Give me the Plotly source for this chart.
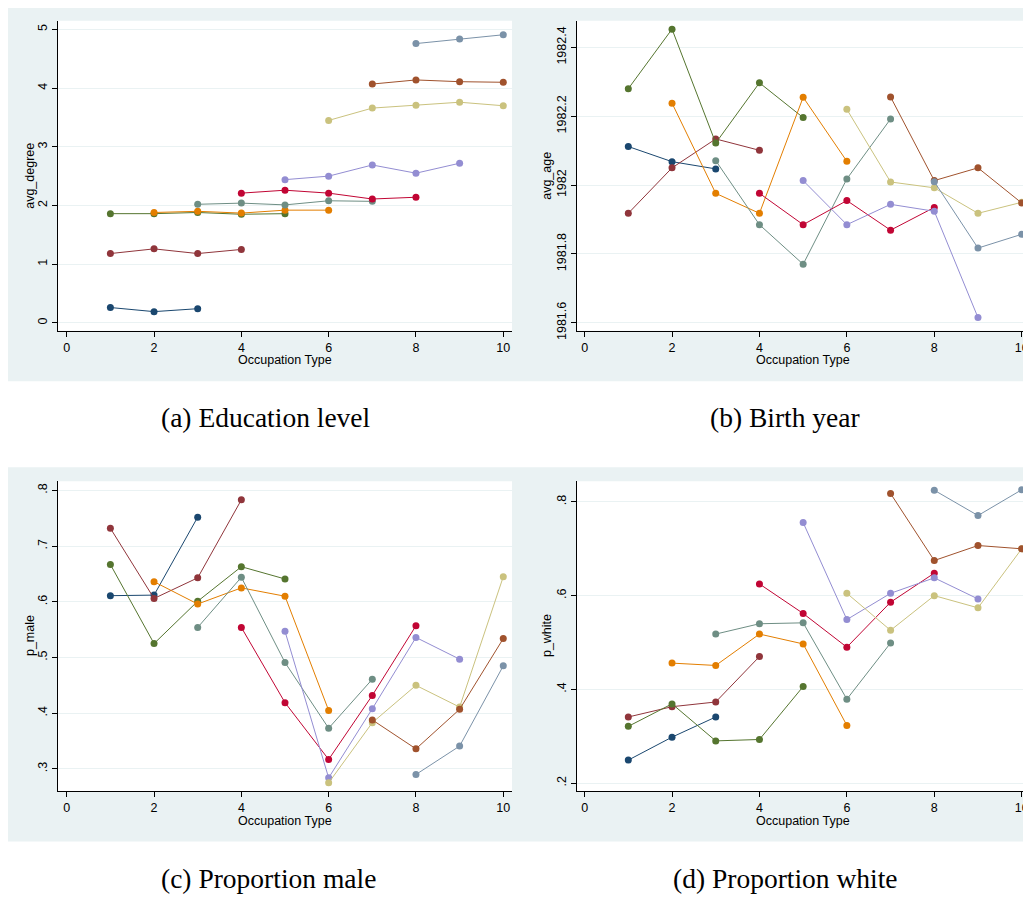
import plotly.graph_objects as go

# ---------------- data ----------------
occupation_ticks = [0, 2, 4, 6, 8, 10]
series_colors = ["#1a476f", "#90353b", "#55752f", "#e37e00", "#6e8e84",
                 "#c10534", "#938dd2", "#cac27e", "#a0522d", "#7b92a8"]
series_x = [
    [1, 2, 3],
    [1, 2, 3, 4],
    [1, 2, 3, 4, 5],
    [2, 3, 4, 5, 6],
    [3, 4, 5, 6, 7],
    [4, 5, 6, 7, 8],
    [5, 6, 7, 8, 9],
    [6, 7, 8, 9, 10],
    [7, 8, 9, 10],
    [8, 9, 10],
]
avg_degree = [
    [0.26, 0.19, 0.24],
    [1.18, 1.26, 1.18, 1.25],
    [1.86, 1.86, 1.88, 1.85, 1.86],
    [1.88, 1.90, 1.87, 1.92, 1.92],
    [2.02, 2.04, 2.01, 2.08, 2.07],
    [2.21, 2.26, 2.21, 2.11, 2.14],
    [2.44, 2.50, 2.69, 2.55, 2.72],
    [3.45, 3.66, 3.71, 3.76, 3.70],
    [4.07, 4.14, 4.11, 4.10],
    [4.76, 4.84, 4.91],
]
avg_age = [
    [1982.112, 1982.068, 1982.047],
    [1981.918, 1982.050, 1982.134, 1982.101],
    [1982.280, 1982.453, 1982.122, 1982.297, 1982.196],
    [1982.238, 1981.976, 1981.918, 1982.255, 1982.069],
    [1982.071, 1981.885, 1981.770, 1982.018, 1982.192],
    [1981.976, 1981.885, 1981.955, 1981.869, 1981.935],
    [1982.013, 1981.885, 1981.944, 1981.924, 1981.615],
    [1982.220, 1982.009, 1981.992, 1981.918, 1981.950],
    [1982.256, 1982.013, 1982.050, 1981.948],
    [1982.010, 1981.817, 1981.857],
]
p_male = [
    [0.611, 0.612, 0.752],
    [0.732, 0.606, 0.643, 0.783],
    [0.667, 0.525, 0.601, 0.663, 0.641],
    [0.636, 0.596, 0.625, 0.610, 0.405],
    [0.554, 0.644, 0.491, 0.373, 0.461],
    [0.554, 0.419, 0.317, 0.432, 0.557],
    [0.547, 0.284, 0.408, 0.536, 0.497],
    [0.275, 0.383, 0.450, 0.411, 0.645],
    [0.388, 0.336, 0.407, 0.534],
    [0.290, 0.341, 0.485],
]
p_white = [
    [0.249, 0.298, 0.341],
    [0.341, 0.363, 0.373, 0.470],
    [0.321, 0.369, 0.290, 0.293, 0.406],
    [0.456, 0.451, 0.518, 0.497, 0.323],
    [0.518, 0.540, 0.542, 0.379, 0.499],
    [0.625, 0.562, 0.490, 0.586, 0.648],
    [0.756, 0.549, 0.605, 0.638, 0.593],
    [0.605, 0.526, 0.600, 0.574, 0.700],
    [0.818, 0.675, 0.707, 0.700],
    [0.825, 0.771, 0.826],
]
deg_ticks = [0, 1, 2, 3, 4, 5]
deg_ticktext = ["0", "1", "2", "3", "4", "5"]
age_ticks = [1981.6, 1981.8, 1982.0, 1982.2, 1982.4]
age_ticktext = ["1981.6", "1981.8", "1982", "1982.2", "1982.4"]
male_ticks = [0.3, 0.4, 0.5, 0.6, 0.7, 0.8]
male_ticktext = [".3", ".4", ".5", ".6", ".7", ".8"]
white_ticks = [0.2, 0.4, 0.6, 0.8]
white_ticktext = [".2", ".4", ".6", ".8"]
captions = ["(a) Education level", "(b) Birth year", "(c) Proportion male", "(d) Proportion white"]
y_titles = ["avg_degree", "avg_age", "p_male", "p_white"]
x_title = "Occupation Type"

# ---------------- layout geometry (screen pixels; page body has an 8px margin) ----------------
OFF = 8
W, H = 1023, 887
def px(x):
    return (x - OFF) / W
def py(y):
    return 1 - (y - OFF) / H

panels = [
    dict(data=avg_degree, xd=(58, 512), yd=(21, 334), xr=[-0.2, 10.2], yr=[-0.135, 5.147],
         tv=deg_ticks, tt=deg_ticktext, ytx=30, xtl=285, xty=364, cap=(266, 422)),
    dict(data=avg_age, xd=(577, 1030), yd=(21, 334), xr=[-0.174, 10.19], yr=[1981.577, 1982.477],
         tv=age_ticks, tt=age_ticktext, ytx=547, xtl=803, xty=364, cap=(785, 422)),
    dict(data=p_male, xd=(58, 512), yd=(486, 799), xr=[-0.2, 10.2], yr=[0.2604, 0.8166],
         tv=male_ticks, tt=male_ticktext, ytx=30, xtl=285, xty=829, cap=(268, 887)),
    dict(data=p_white, xd=(577, 1030), yd=(486, 799), xr=[-0.174, 10.19], yr=[0.1831, 0.8444],
         tv=white_ticks, tt=white_ticktext, ytx=547, xtl=803, xty=829, cap=(785, 887)),
]

fig = go.Figure()
font_sans = "Liberation Sans, Arial, sans-serif"
shapes = [
    dict(type="rect", xref="paper", yref="paper", x0=px(7), x1=px(1032), y0=py(385), y1=py(7),
         fillcolor="#eaf2f3", line=dict(width=0), layer="below"),
    dict(type="rect", xref="paper", yref="paper", x0=px(7), x1=px(1032), y0=py(850), y1=py(472),
         fillcolor="#eaf2f3", line=dict(width=0), layer="below"),
]
annotations = []
layout_axes = {}
for i, p in enumerate(panels):
    n = i + 1
    xa = "x" if n == 1 else f"x{n}"
    ya = "y" if n == 1 else f"y{n}"
    for s in range(len(series_x)):
        fig.add_trace(go.Scatter(
            x=series_x[s], y=p["data"][s], mode="lines+markers",
            line=dict(color=series_colors[s], width=1),
            marker=dict(color=series_colors[s], size=7),
            xaxis=xa, yaxis=ya, showlegend=False, hoverinfo="x+y"))
    shapes.append(dict(type="rect", xref="paper", yref="paper",
                       x0=px(p["xd"][0]), x1=px(p["xd"][1]),
                       y0=py(p["yd"][1]), y1=py(p["yd"][0]),
                       fillcolor="white", line=dict(width=0), layer="below"))
    layout_axes["xaxis" if n == 1 else f"xaxis{n}"] = dict(
        domain=[px(p["xd"][0]), min(1.0, px(p["xd"][1]))], range=p["xr"], anchor=ya,
        tickvals=occupation_ticks, ticktext=[str(t) for t in occupation_ticks],
        showgrid=False, zeroline=False, showline=True, linecolor="#000000", linewidth=1.2,
        ticks="outside", ticklen=5, tickcolor="#000000", tickwidth=1,
        tickfont=dict(family=font_sans, size=12.5, color="#000000"))
    layout_axes["yaxis" if n == 1 else f"yaxis{n}"] = dict(
        domain=[py(p["yd"][1]), py(p["yd"][0])], range=p["yr"], anchor=xa,
        tickvals=p["tv"], ticktext=p["tt"], tickangle=-90,
        showgrid=True, gridcolor="#eaf2f3", gridwidth=1,
        zeroline=False, showline=True, linecolor="#000000", linewidth=1.2,
        ticks="outside", ticklen=5, tickcolor="#000000", tickwidth=1,
        tickfont=dict(family=font_sans, size=12.5, color="#000000"))
    annotations.append(dict(text=y_titles[i], xref="paper", yref="paper",
                            x=px(p["ytx"]), y=py((p["yd"][0] + p["yd"][1]) / 2),
                            textangle=-90, showarrow=False, xanchor="center", yanchor="middle",
                            font=dict(family=font_sans, size=12.5, color="#000000")))
    annotations.append(dict(text=x_title, xref="paper", yref="paper",
                            x=px(p["xtl"]), y=py(p["xty"]), showarrow=False,
                            xanchor="center", yanchor="middle",
                            font=dict(family=font_sans, size=12.5, color="#000000")))
    annotations.append(dict(text=captions[i], xref="paper", yref="paper",
                            x=px(p["cap"][0]), y=py(p["cap"][1]), showarrow=False,
                            xanchor="center", yanchor="middle",
                            font=dict(family="Liberation Serif, Times New Roman, serif",
                                      size=27.5, color="#000000")))

fig.update_layout(
    width=W, height=H, margin=dict(l=0, r=0, t=0, b=0),
    paper_bgcolor="white", plot_bgcolor="rgba(0,0,0,0)",
    shapes=shapes, annotations=annotations, showlegend=False,
    **layout_axes)

fig.write_html("out.html")
